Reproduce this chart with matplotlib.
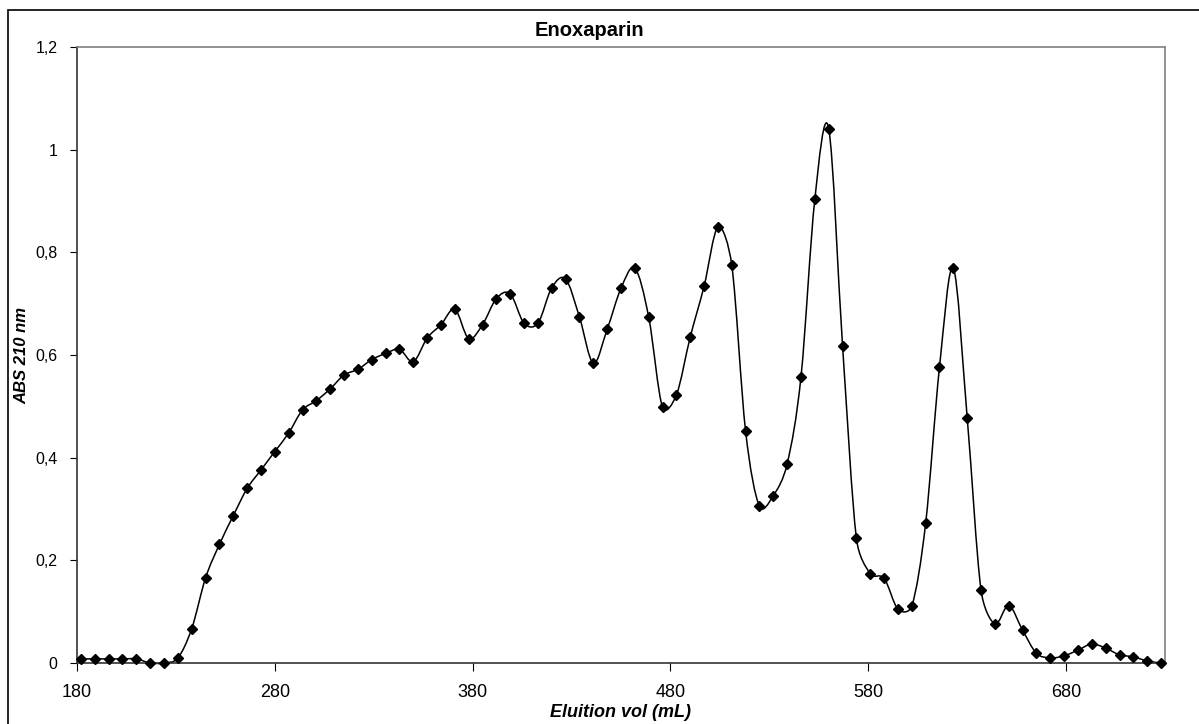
import numpy as np
import matplotlib
matplotlib.use('Agg')
import matplotlib.pyplot as plt
from matplotlib.path import Path
from matplotlib.patches import PathPatch, Rectangle
from matplotlib.ticker import FuncFormatter

plt.rcParams['font.family'] = ['Liberation Sans', 'DejaVu Sans']

# fractions collected every 7 mL
vol = [182, 189, 196, 203, 210, 217, 224, 231, 238, 245,
       252, 259, 266, 273, 280, 287, 294, 301, 308, 315,
       322, 329, 336, 343, 350, 357, 364, 371, 378, 385,
       392, 399, 406, 413, 420, 427, 434, 441, 448, 455,
       462, 469, 476, 483, 490, 497, 504, 511, 518, 525,
       532, 539, 546, 553, 560, 567, 574, 581, 588, 595,
       602, 609, 616, 623, 630, 637, 644, 651, 658, 665,
       672, 679, 686, 693, 700, 707, 714, 721, 728]
# absorbance at 210 nm
absb = [0.008, 0.008, 0.008, 0.008, 0.008, 0.000, 0.000, 0.010, 0.067, 0.166,
        0.231, 0.287, 0.340, 0.376, 0.412, 0.448, 0.493, 0.511, 0.534, 0.561,
        0.572, 0.591, 0.603, 0.611, 0.587, 0.633, 0.659, 0.689, 0.632, 0.659,
        0.710, 0.719, 0.662, 0.662, 0.731, 0.748, 0.674, 0.584, 0.650, 0.730,
        0.769, 0.674, 0.498, 0.522, 0.635, 0.734, 0.849, 0.775, 0.451, 0.305,
        0.326, 0.388, 0.558, 0.904, 1.041, 0.618, 0.243, 0.174, 0.165, 0.105,
        0.111, 0.272, 0.576, 0.769, 0.478, 0.142, 0.076, 0.112, 0.064, 0.019,
        0.010, 0.014, 0.025, 0.037, 0.029, 0.016, 0.012, 0.004, 0.000]

xticks = [180, 280, 380, 480, 580, 680]
yticks = [0, 0.2, 0.4, 0.6, 0.8, 1.0, 1.2]

fig = plt.figure(figsize=(11.99, 7.24), dpi=100)
ax = fig.add_axes([77/1199, 1 - 663/724, (1165 - 77)/1199, (663 - 47)/724])
ax.set_xlim(180, 730)
ax.set_ylim(0, 1.2)

# smoothed line like excel: bezier arms = (next - prev)/6,
# clamped to half the segment length (done in display space)
P = ax.transData.transform(np.column_stack([vol, absb]).astype(float))
Pe = np.vstack([P[0], P, P[-1]])
verts = [P[0]]
codes = [Path.MOVETO]
for i in range(len(P) - 1):
    p0, p1, p2, p3 = Pe[i], Pe[i+1], Pe[i+2], Pe[i+3]
    half = np.hypot(*(p2 - p1)) / 2
    a1 = (p2 - p0) / 6
    a2 = (p3 - p1) / 6
    n1 = np.hypot(*a1)
    n2 = np.hypot(*a2)
    if n1 > half:
        a1 = a1 * half / n1
    if n2 > half:
        a2 = a2 * half / n2
    verts += [p1 + a1, p2 - a2, p2]
    codes += [Path.CURVE4]*3
ax.add_patch(PathPatch(Path(verts, codes), fill=False, edgecolor='black',
                       lw=1.1, clip_on=False, transform=None))
ax.plot(vol, absb, linestyle='none', marker='D', ms=5.2, color='black',
        clip_on=False, zorder=3)

ax.set_xticks(xticks)
ax.set_yticks(yticks)
ax.yaxis.set_major_formatter(FuncFormatter(lambda v, p: ('%g' % v).replace('.', ',')))
ax.tick_params(axis='x', direction='out', length=6, width=0.8, labelsize=13, pad=9)
ax.tick_params(axis='y', direction='out', length=5, width=0.8, labelsize=11.5, pad=9)

for s in ['top', 'right']:
    ax.spines[s].set_color('#808080')
    ax.spines[s].set_linewidth(1.2)
for s in ['left', 'bottom']:
    ax.spines[s].set_color('#333333')
    ax.spines[s].set_linewidth(1.2)

ax.set_xlabel('Eluition vol (mL)', fontsize=13, fontweight='bold', style='italic', labelpad=2)
ax.set_ylabel('ABS 210 nm', fontsize=12, fontweight='bold', style='italic', labelpad=4)
fig.text(589/1199, 1 - 30/724, 'Enoxaparin', fontsize=14.5, fontweight='bold',
         ha='center', va='center')

# outer chart border
fig.patches.append(Rectangle((8/1199, -0.05), 1.1, 1.05 - 10/724, transform=fig.transFigure,
                             fill=False, edgecolor='black', lw=1.2))

fig.savefig('out.png', dpi=100)
